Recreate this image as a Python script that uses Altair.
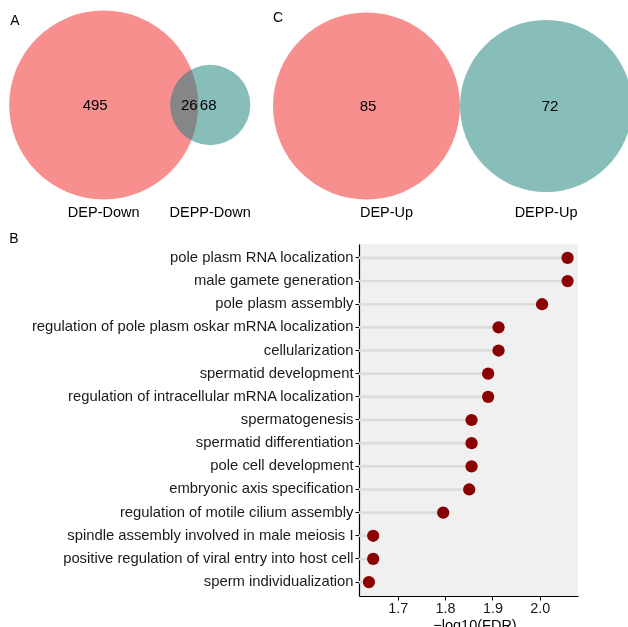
import math

import altair as alt
import pandas as pd

# ---------------- data ----------------
# Down-regulated protein sets
down_sets = ["DEP-Down", "DEPP-Down"]
down_unique = [495, 68]
down_common = 26

# Up-regulated protein sets
up_sets = ["DEP-Up", "DEPP-Up"]
up_unique = [85, 72]
up_common = 0

# GO enrichment of the shared down-regulated proteins
go_terms = [
    "pole plasm RNA localization",
    "male gamete generation",
    "pole plasm assembly",
    "regulation of pole plasm oskar mRNA localization",
    "cellularization",
    "spermatid development",
    "regulation of intracellular mRNA localization",
    "spermatogenesis",
    "spermatid differentiation",
    "pole cell development",
    "embryonic axis specification",
    "regulation of motile cilium assembly",
    "spindle assembly involved in male meiosis I",
    "positive regulation of viral entry into host cell",
    "sperm individualization",
]
go_score = [2.059, 2.059, 2.005, 1.913, 1.913, 1.891, 1.891,
            1.856, 1.856, 1.856, 1.851, 1.796, 1.648, 1.648, 1.639]

# ---------------- styling ----------------
FONT = "Liberation Sans"
PINK = (247, 143, 143)
TEAL = "#87BEB9"
# complement of the pink: drawn with "exclusion" blending it shows pink on white
# and a neutral grey where it lies on top of the teal circle
PINK_EXCL = "#%02X%02X%02X" % tuple(255 - c for c in PINK)


def lens_area(r1, r2, d):
    if d >= r1 + r2:
        return 0.0
    if d <= abs(r1 - r2):
        return math.pi * min(r1, r2) ** 2
    a1 = r1 * r1 * math.acos((d * d + r1 * r1 - r2 * r2) / (2 * d * r1))
    a2 = r2 * r2 * math.acos((d * d + r2 * r2 - r1 * r1) / (2 * d * r2))
    a3 = 0.5 * math.sqrt((-d + r1 + r2) * (d + r1 - r2) * (d - r1 + r2) * (d + r1 + r2))
    return a1 + a2 - a3


def centre_distance(r1, r2, common):
    """Distance between circle centres giving an overlap of area `common`."""
    if common <= 0:
        return r1 + r2
    lo, hi = abs(r1 - r2), r1 + r2
    for _ in range(80):
        mid = (lo + hi) / 2
        if lens_area(r1, r2, mid) > common:
            lo = mid
        else:
            hi = mid
    return (lo + hi) / 2


def venn_panel(sets, unique, common, tag, tag_xy, width, height,
               r_px, centre_px, count_nudge_px, name_nudge_px):
    totals = [u + common for u in unique]
    radii = [math.sqrt(t / math.pi) for t in totals]
    d = centre_distance(radii[0], radii[1], common)
    k = r_px / radii[0]  # pixels per area-unit length

    circles = pd.DataFrame({"set": sets, "total": totals,
                            "cx": [0.0, d], "cy": [0.0, 0.0]})

    # region counts: left-only, right-only, shared (on the chord)
    chord = (d * d + radii[0] ** 2 - radii[1] ** 2) / (2 * d)
    cnt_x = [0.0 + count_nudge_px[0] / k, d + count_nudge_px[1] / k]
    cnt_v = [str(unique[0]), str(unique[1])]
    if common > 0:
        cnt_x.append(chord + count_nudge_px[2] / k)
        cnt_v.append(str(common))
    counts = pd.DataFrame({"x": cnt_x, "y": [0.0] * len(cnt_x), "n": cnt_v})

    name_y = -(max(radii) + 13.5 / k)
    names = pd.DataFrame({"x": [0.0 + name_nudge_px[0] / k, d + name_nudge_px[1] / k],
                          "y": [name_y, name_y], "name": sets})

    cx0, cy0 = centre_px
    xs = alt.Scale(domain=[-cx0 / k, (width - cx0) / k], nice=False, zero=False)
    ys = alt.Scale(domain=[-(height - cy0) / k, cy0 / k], nice=False, zero=False)
    # symbol size is the area of the bounding square (diameter squared)
    size = alt.Size("total:Q", legend=None,
                    scale=alt.Scale(domain=[0, max(totals)],
                                    range=[0, 4 / math.pi * k * k * max(totals)]))

    base = alt.Chart(circles).encode(
        x=alt.X("cx:Q", scale=xs, axis=None),
        y=alt.Y("cy:Q", scale=ys, axis=None),
        size=size,
    )
    backdrop = base.transform_filter(alt.datum.set == sets[0]).mark_circle(
        color="white", opacity=1)
    right = base.transform_filter(alt.datum.set == sets[1]).mark_circle(
        color=TEAL, opacity=1, clip=True)
    left = base.transform_filter(alt.datum.set == sets[0]).mark_circle(
        color=PINK_EXCL, opacity=1, blend="exclusion")

    count_text = alt.Chart(counts).mark_text(
        font=FONT, fontSize=15, color="black").encode(
        x=alt.X("x:Q", scale=xs, axis=None),
        y=alt.Y("y:Q", scale=ys, axis=None),
        text="n:N")
    name_text = alt.Chart(names).mark_text(
        font=FONT, fontSize=14.5, color="black").encode(
        x=alt.X("x:Q", scale=xs, axis=None),
        y=alt.Y("y:Q", scale=ys, axis=None),
        text="name:N")
    tag_text = alt.Chart(pd.DataFrame({"tag": [tag]})).mark_text(
        font=FONT, fontSize=14, color="black").encode(
        x=alt.value(tag_xy[0]), y=alt.value(tag_xy[1]), text="tag:N")

    return alt.layer(backdrop, right, left, count_text, name_text, tag_text).properties(
        width=width, height=height,
        view=alt.ViewBackground(stroke=None, fill="white"))


ROW1_H = 232

venn_down = venn_panel(down_sets, down_unique, down_common, "A", (15, 21),
                       266, ROW1_H, 94.5, (103.7, 105),
                       count_nudge_px=[-8.5, -2, -2], name_nudge_px=[0, 0])
venn_up = venn_panel(up_sets, up_unique, up_common, "C", (12, 18),
                     362, ROW1_H, 93.5, (100.5, 106),
                     count_nudge_px=[1.5, 4, 0], name_nudge_px=[20, 0])

# ---------------- lollipop of GO terms ----------------
go = pd.DataFrame({"term": go_terms, "score": go_score})
x_scale = alt.Scale(domain=[1.618, 2.081], nice=False, zero=False)
x_axis = alt.Axis(values=[1.7, 1.8, 1.9, 2.0], format=".1f", grid=False,
                  title="\u2212log10(FDR)", titleFont=FONT, titleFontSize=14.5,
                  titleFontWeight="normal", titleColor="black", titlePadding=4,
                  titleX=115.5,
                  labelFont=FONT, labelFontSize=14.4, labelColor="#1a1a1a",
                  labelPadding=1, tickSize=4, tickColor="black",
                  domainColor="black", domainWidth=1.2)
y_enc = alt.Y("term:N", sort=go_terms, title=None,
              scale=alt.Scale(type="band", paddingInner=0, paddingOuter=0.1),
              axis=alt.Axis(labelFont=FONT, labelFontSize=14.8, labelColor="#1a1a1a",
                            labelLimit=400, labelPadding=2, tickSize=4,
                            tickColor="black", domainColor="black", domainWidth=1.2,
                            grid=False, minExtent=358))

stems = alt.Chart(go).mark_rule(color="#DCDCDC", strokeWidth=2.6, clip=True).encode(
    x=alt.X("score:Q", scale=x_scale, axis=x_axis),
    x2=alt.datum(1.5),
    y=y_enc,
)
dots = alt.Chart(go).mark_circle(color="#8B0000", opacity=1, size=150).encode(
    x=alt.X("score:Q", scale=x_scale, axis=x_axis),
    y=y_enc,
)
tag_b = alt.Chart(pd.DataFrame({"tag": ["B"]})).mark_text(
    font=FONT, fontSize=14, color="black").encode(
    x=alt.value(-345), y=alt.value(-5), text="tag:N")

lollipop = alt.layer(stems, dots, tag_b).properties(
    width=219, height=352,
    view=alt.ViewBackground(fill="#F0F0F0", stroke=None))

# narrow blank column so the lower row starts flush with the left edge
gutter = alt.Chart(pd.DataFrame({"g": [0]})).mark_point(
    opacity=0, size=0, strokeWidth=0).encode(
    x=alt.X("g:Q", axis=None), y=alt.Y("g:Q", axis=None)
).properties(width=1, height=352, view=alt.ViewBackground(stroke=None))

venn_row = alt.hconcat(venn_down, venn_up, spacing=0).resolve_scale(size="independent")
lower_row = alt.hconcat(gutter, lollipop, spacing=0)

chart = alt.vconcat(
    venn_row,
    lower_row,
    spacing=0,
).properties(
    padding={"left": 0, "top": 0, "right": 0, "bottom": 0},
).configure(font=FONT).configure_view(stroke=None)

chart.save("out.html", embed_options={"renderer": "svg", "actions": False})
